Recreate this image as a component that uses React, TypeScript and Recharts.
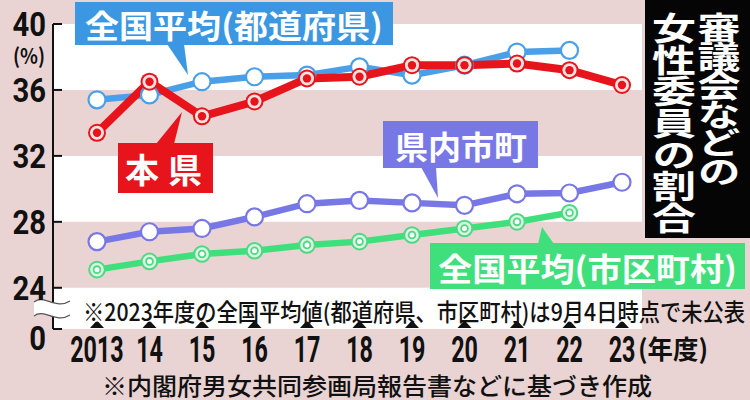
import React from 'react';
import { LineChart, Line, XAxis, YAxis, ReferenceArea } from 'recharts';

const years = [2013, 2014, 2015, 2016, 2017, 2018, 2019, 2020, 2021, 2022, 2023];
const yearLabels = ['2013', '14', '15', '16', '17', '18', '19', '20', '21', '22', '23'];
const prefAvg = [35.4, 35.7, 36.5, 36.8, 36.9, 37.4, 36.9, 37.5, 38.3, 38.4, null];
const thisPref = [33.4, 36.5, 34.4, 35.3, 36.7, 36.8, 37.5, 37.5, 37.6, 37.2, 36.3];
const prefMunic = [26.8, 27.4, 27.6, 28.3, 29.1, 29.3, 29.15, 29.0, 29.7, 29.75, 30.4];
const municAvg = [25.1, 25.6, 26.05, 26.25, 26.6, 26.8, 27.2, 27.6, 28.0, 28.55, null];
const yTicks = [21.5, 24, 28, 32, 36, 40];
const yTickLabels = ['0', '24', '28', '32', '36', '40'];

const data = years.map((y, i) => ({
  year: y,
  prefAvg: prefAvg[i],
  thisPref: thisPref[i],
  prefMunic: prefMunic[i],
  municAvg: municAvg[i],
}));

const PINK = '#ead4d3';
const BLUE = '#4aa0e8';
const BLUE_BOX = '#3b97e1';
const RED = '#e8141b';
const PURPLE = '#7877e6';
const GREEN = '#3fe07c';
const JP = '"Noto Sans CJK JP", "Noto Sans", sans-serif';
const NUM = 'Roboto, "DejaVu Sans", sans-serif';
const AXIS_X = 53;

const XTick = (props: any) => {
  const { x, y, payload } = props;
  const i = years.indexOf(payload.value);
  const base = y;
  return (
    <g>
      <path d={`M${x - 7},${base - 1} L${x - 1.5},${base - 7} Q${x},${base - 8} ${x + 1.5},${base - 7} L${x + 7},${base - 1} Z`} fill="#111" />
      <g transform={`translate(${x},${base + 20}) scale(0.63,1)`}>
        <text x={0} y={0} textAnchor="middle" dominantBaseline="central" fontFamily={NUM} fontWeight={700} fontSize={37} fill="#111">
          {yearLabels[i]}
        </text>
      </g>
    </g>
  );
};

const YTick = (props: any) => {
  const { y, payload } = props;
  const i = yTicks.indexOf(payload.value);
  const isZero = i === 0;
  const ly = isZero ? y + 10 : y + 1;
  return (
    <g>
      <line x1={AXIS_X} x2={AXIS_X + 9} y1={y} y2={y} stroke="#111" strokeWidth={2} />
      <g transform={`translate(46,${ly}) scale(0.86,1)`}>
        <text x={0} y={0} textAnchor="end" dominantBaseline="central" fontFamily={NUM} fontWeight={700} fontSize={34} fill="#111">
          {yTickLabels[i]}
        </text>
      </g>
      {isZero && (
        <g>
          <path d={`M34,${y - 27} C44,${y - 35} 56,${y - 19} 70,${y - 28} L70,${y - 14} C56,${y - 6} 44,${y - 22} 34,${y - 13} Z`} fill="#fff" />
          <path d={`M34,${y - 27} C44,${y - 35} 56,${y - 19} 70,${y - 28}`} fill="none" stroke="#555" strokeWidth={1.3} />
          <path d={`M34,${y - 13} C44,${y - 21} 56,${y - 5} 70,${y - 14}`} fill="none" stroke="#555" strokeWidth={1.3} />
        </g>
      )}
    </g>
  );
};

const mkDot = (kind: string) => (props: any) => {
  const { cx, cy, index, value } = props;
  const key = `${kind}-${index}`;
  if (cx == null || cy == null || value == null) return <g key={key} />;
  if (kind === 'red') {
    return (
      <g key={key}>
        <circle cx={cx} cy={cy} r={9} fill={RED} />
        <circle cx={cx} cy={cy} r={7} fill="#fbe3e3" />
        <circle cx={cx} cy={cy} r={4.2} fill={RED} />
      </g>
    );
  }
  if (kind === 'green') {
    return (
      <g key={key}>
        <circle cx={cx} cy={cy} r={7.8} fill="#d8f8e2" stroke="#4fd884" strokeWidth={2} />
        <circle cx={cx} cy={cy} r={3.4} fill="#fff" stroke="#4fd884" strokeWidth={1.8} />
      </g>
    );
  }
  const col = kind === 'blue' ? BLUE : PURPLE;
  return <circle key={key} cx={cx} cy={cy} r={8.5} fill="#fff" stroke={col} strokeWidth={2.2} />;
};

const Annotations = () => (
  <svg width={750} height={400} style={{ position: 'absolute', left: 0, top: 0, pointerEvents: 'none' }}>
    {/* blue label */}
    <rect x={75} y={2} width={318} height={43} fill={BLUE_BOX} />
    <path d="M167,44 L184,44 L188,75 Z" fill={BLUE_BOX} />
    <text x={85} y={24} textLength={298} lengthAdjust="spacingAndGlyphs" dominantBaseline="central" fontFamily={JP} fontWeight={700} fontSize={32} fill="#fff">全国平均(都道府県)</text>

    {/* red label */}
    <rect x={118} y={143} width={95} height={50} fill={RED} />
    <path d="M156,144 L174,144 L182,112 Z" fill={RED} />
    <text x={125} y={168} textLength={77} lengthAdjust="spacing" dominantBaseline="central" fontFamily={JP} fontWeight={700} fontSize={34} fill="#fff">本 県</text>

    {/* purple label */}
    <rect x={383} y={121} width={155} height={47} fill={PURPLE} />
    <path d="M421,167 L436,167 L438,198 Z" fill={PURPLE} />
    <text x={395} y={145} textLength={132} lengthAdjust="spacingAndGlyphs" dominantBaseline="central" fontFamily={JP} fontWeight={700} fontSize={32} fill="#fff">県内市町</text>

    {/* green label */}
    <rect x={430} y={243} width={315} height={46} fill={GREEN} />
    <path d="M538,244 L554,244 L542,227 Z" fill={GREEN} />
    <text x={438} y={267} textLength={299} lengthAdjust="spacingAndGlyphs" dominantBaseline="central" fontFamily={JP} fontWeight={700} fontSize={32} fill="#fff">全国平均(市区町村)</text>

    {/* title panel */}
    <rect x={645} y={0} width={105} height={238} fill="#050505" />
    <g transform="translate(674,12) scale(1,0.72)">
      <text x={0} y={0} writingMode="vertical-rl" style={{ writingMode: 'vertical-rl' } as any} fontFamily={JP} fontWeight={700} fontSize={44} fill="#fff">女性委員の割合</text>
    </g>
    <g transform="translate(719,12) scale(1,0.72)">
      <text x={0} y={0} writingMode="vertical-rl" style={{ writingMode: 'vertical-rl', letterSpacing: '-3px' } as any} fontFamily={JP} fontWeight={700} fontSize={43} fill="#fff">審議会などの</text>
    </g>

    {/* units */}
    <text x={13} y={55} textLength={32} lengthAdjust="spacingAndGlyphs" dominantBaseline="central" fontFamily={JP} fontWeight={700} fontSize={21} fill="#111">(%)</text>
    <text x={638} y={347} textLength={70} lengthAdjust="spacingAndGlyphs" dominantBaseline="central" fontFamily={JP} fontWeight={700} fontSize={26} fill="#111">(年度)</text>

    {/* notes */}
    <g transform="translate(83,310) scale(1,1.12)">
      <text x={0} y={0} textLength={662} lengthAdjust="spacingAndGlyphs" dominantBaseline="central" fontFamily={JP} fontWeight={500} fontSize={21} fill="#111">※2023年度の全国平均値(都道府県、市区町村)は9月4日時点で未公表</text>
    </g>
    <text x={102} y={384} textLength={550} lengthAdjust="spacingAndGlyphs" dominantBaseline="central" fontFamily={JP} fontWeight={500} fontSize={24} fill="#111">※内閣府男女共同参画局報告書などに基づき作成</text>
  </svg>
);

export default function App() {
  return (
    <div style={{ position: 'absolute', left: 0, top: 0, width: 750, height: 400, background: PINK, overflow: 'hidden' }}>
      <LineChart width={750} height={400} data={data} margin={{ top: 24, right: 108, bottom: 0, left: 0 }}>
        <ReferenceArea y1={36} y2={40} fill="#ffffff" fillOpacity={1} stroke="none" ifOverflow="hidden" />
        <ReferenceArea y1={28} y2={32} fill="#ffffff" fillOpacity={1} stroke="none" ifOverflow="hidden" />
        <ReferenceArea y1={21.5} y2={24} fill="#ffffff" fillOpacity={1} stroke="none" ifOverflow="hidden" />
        <XAxis
          dataKey="year"
          type="number"
          domain={[2012.162, 2023.381]}
          ticks={years}
          axisLine={false}
          tickLine={false}
          tickSize={0}
          tickMargin={0}
          height={71}
          interval={0}
          tick={<XTick />}
          allowDataOverflow
        />
        <YAxis
          type="number"
          domain={[21.5, 40]}
          ticks={yTicks}
          width={53}
          axisLine={{ stroke: '#111', strokeWidth: 2 }}
          tickLine={false}
          tick={<YTick />}
          interval={0}
          allowDataOverflow
        />
        <Line dataKey="municAvg" stroke={GREEN} strokeWidth={6.5} dot={mkDot('green')} activeDot={false} isAnimationActive={false} connectNulls={false} />
        <Line dataKey="prefMunic" stroke={PURPLE} strokeWidth={6.5} dot={mkDot('purple')} activeDot={false} isAnimationActive={false} />
        <Line dataKey="prefAvg" stroke={BLUE} strokeWidth={6.5} dot={mkDot('blue')} activeDot={false} isAnimationActive={false} connectNulls={false} />
        <Line dataKey="thisPref" stroke={RED} strokeWidth={8} dot={mkDot('red')} activeDot={false} isAnimationActive={false} />
      </LineChart>
      <Annotations />
    </div>
  );
}
